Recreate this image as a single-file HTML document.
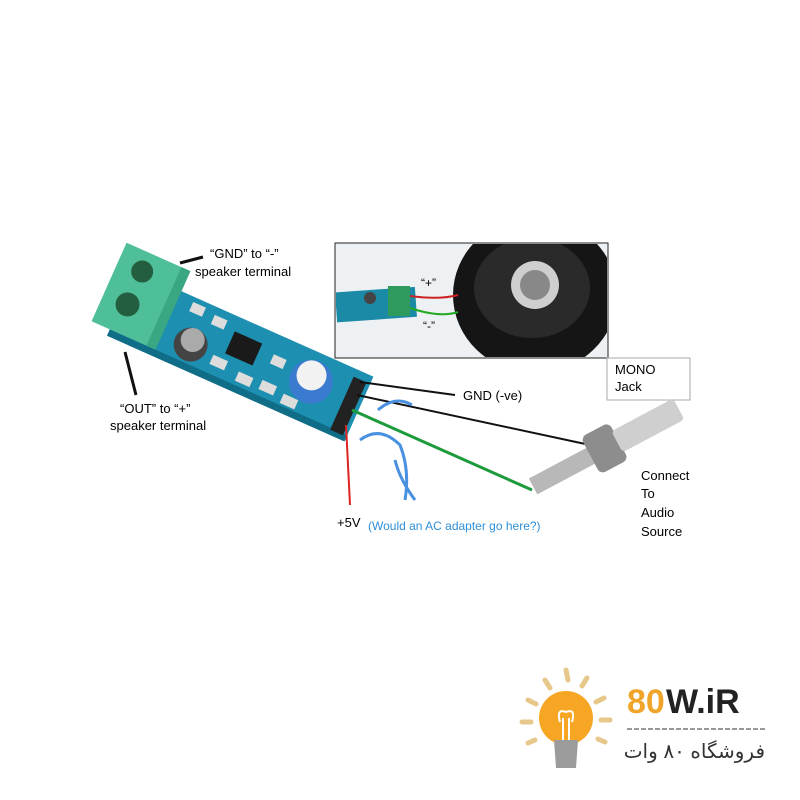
<!DOCTYPE html>
<html><head><meta charset="utf-8"><style>
body{margin:0;background:#fff;width:800px;height:800px;overflow:hidden}
svg{display:block}
text{font-family:"Liberation Sans","DejaVu Sans",sans-serif}
</style></head><body>
<svg width="800" height="800" viewBox="0 0 800 800" xmlns="http://www.w3.org/2000/svg">
<!-- inset photo -->
<rect x="335" y="243" width="273" height="115" fill="#eef1f3" stroke="#222" stroke-width="1"/>
<clipPath id="c"><rect x="336" y="244" width="271" height="113"/></clipPath>
<g clip-path="url(#c)">
<ellipse cx="535" cy="295" rx="82" ry="78" fill="#151515"/>
<ellipse cx="532" cy="288" rx="58" ry="50" fill="#2a2a2a"/>
<circle cx="535" cy="285" r="24" fill="#cfcfcf"/>
<circle cx="535" cy="285" r="15" fill="#888"/>
<rect x="336" y="290" width="80" height="30" fill="#1a8aa6" transform="rotate(-4 370 305)"/>
<rect x="388" y="286" width="22" height="30" fill="#2e9a5b"/>
<circle cx="370" cy="298" r="6" fill="#444"/>
<path d="M410 296 Q440 300 458 295" stroke="#c22" stroke-width="2" fill="none"/>
<path d="M410 308 Q440 318 458 312" stroke="#2a2" stroke-width="2" fill="none"/>
</g>
<text x="421" y="287" font-size="12">“+”</text>
<text x="423" y="330" font-size="12">“-”</text>
<rect x="607" y="358" width="83" height="42" fill="#fff" stroke="#aaa"/>
<text x="615" y="374" font-size="13">MONO</text>
<text x="615" y="391" font-size="13">Jack</text>
<!-- board -->
<g transform="translate(145,275) rotate(24)">
<rect x="-10" y="0" width="260" height="70" fill="#1d8fb0"/>
<rect x="-10" y="64" width="260" height="7" fill="#0f6d88"/>
<!-- terminal -->
<rect x="-30" y="-22" width="68" height="86" fill="#4fbf9a"/>
<rect x="30" y="-22" width="10" height="86" fill="#3aa783"/>
<circle cx="-4" cy="-2" r="11" fill="#235e3f"/>
<circle cx="-4" cy="34" r="12" fill="#235e3f"/>
<circle cx="70" cy="45" r="17" fill="#444"/>
<circle cx="70" cy="40" r="12" fill="#aaa"/>
<rect x="105" y="15" width="30" height="24" fill="#1a1a1a"/>
<rect x="55" y="5" width="14" height="10" fill="#ddd"/>
<rect x="80" y="8" width="14" height="10" fill="#ddd"/>
<rect x="95" y="45" width="16" height="10" fill="#ddd"/>
<rect x="125" y="50" width="16" height="10" fill="#ddd"/>
<rect x="150" y="48" width="16" height="10" fill="#ddd"/>
<rect x="150" y="20" width="14" height="10" fill="#ddd"/>
<rect x="175" y="52" width="16" height="10" fill="#ddd"/>
<circle cx="195" cy="30" r="22" fill="#3a7bd0"/>
<circle cx="193" cy="24" r="15" fill="#f2f2f2"/>
<rect x="232" y="8" width="14" height="58" fill="#222"/>
</g>
<!-- wires -->
<line x1="360" y1="382" x2="455" y2="395" stroke="#111" stroke-width="2"/>
<line x1="357" y1="395" x2="590" y2="445" stroke="#111" stroke-width="2"/>
<line x1="352" y1="410" x2="532" y2="490" stroke="#1c9a3c" stroke-width="3"/>
<line x1="346" y1="425" x2="350" y2="505" stroke="#d22" stroke-width="2"/>
<!-- blue doodles -->
<path d="M378 410 Q395 395 412 405" stroke="#4a90e0" stroke-width="3" fill="none"/>
<path d="M360 440 Q380 425 400 445 Q410 470 405 500 M395 460 Q400 480 415 500" stroke="#4a90e0" stroke-width="3" fill="none"/>
<!-- jack -->
<g transform="rotate(-28 590 455)">
<rect x="525" y="447" width="70" height="18" fill="#b8b8b8"/>
<rect x="590" y="435" width="32" height="42" rx="6" fill="#8d8d8d"/>
<rect x="620" y="444" width="70" height="24" rx="4" fill="#cfcfcf"/>
</g>
<!-- labels -->
<line x1="180" y1="263" x2="203" y2="257" stroke="#111" stroke-width="3"/>
<text x="210" y="258" font-size="13">“GND” to “-”</text>
<text x="195" y="276" font-size="13">speaker terminal</text>
<line x1="125" y1="352" x2="136" y2="395" stroke="#111" stroke-width="3"/>
<text x="120" y="413" font-size="13">“OUT” to “+”</text>
<text x="110" y="430" font-size="13">speaker terminal</text>
<text x="463" y="400" font-size="13">GND (-ve)</text>
<text x="641" y="480" font-size="13">Connect</text>
<text x="641" y="498" font-size="13">To</text>
<text x="641" y="517" font-size="13">Audio</text>
<text x="641" y="536" font-size="13">Source</text>
<text x="337" y="527" font-size="13">+5V</text>
<text x="368" y="530" font-size="12" fill="#2f8fd8">(Would an AC adapter go here?)</text>
<!-- logo -->
<g stroke="#e8c88a" stroke-width="5" stroke-linecap="round">
<line x1="566" y1="670" x2="568" y2="680"/><line x1="545" y1="680" x2="550" y2="688"/>
<line x1="587" y1="678" x2="582" y2="686"/><line x1="528" y1="700" x2="536" y2="704"/>
<line x1="604" y1="698" x2="596" y2="702"/><line x1="522" y1="722" x2="531" y2="722"/>
<line x1="610" y1="720" x2="601" y2="720"/><line x1="528" y1="743" x2="535" y2="740"/>
<line x1="605" y1="742" x2="598" y2="739"/>
</g>
<circle cx="566" cy="718" r="27" fill="#f6a623"/>
<path d="M554 740 L578 740 L576 768 L556 768 Z" fill="#9b9b9b"/>
<path d="M560 722 Q556 708 566 712 Q576 708 572 722 M563 718 L563 740 M569 718 L569 740" stroke="#fff" stroke-width="2" fill="none"/>
<text x="627" y="713" font-size="34" font-weight="bold" fill="#f0a52a">80</text>
<text x="666" y="713" font-size="34" font-weight="bold" fill="#222">W.iR</text>
<line x1="627" y1="729" x2="765" y2="729" stroke="#999" stroke-width="2" stroke-dasharray="5 2"/>
<text x="765" y="758" font-size="20" text-anchor="end" fill="#333">فروشگاه ۸۰ وات</text>
</svg>
</body></html>
